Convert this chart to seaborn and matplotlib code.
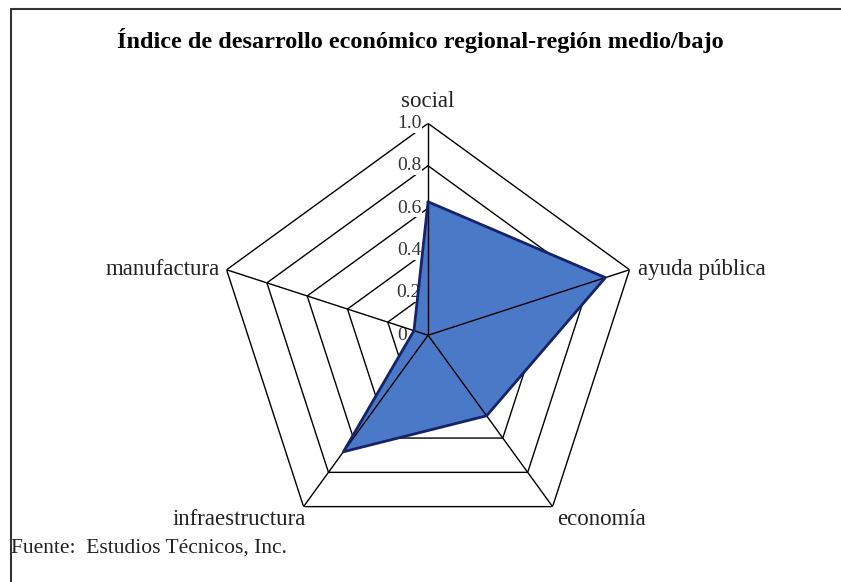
import numpy as np
import matplotlib.pyplot as plt
import seaborn as sns
from matplotlib.lines import Line2D

# Data
categories = ["social", "ayuda pública", "economía", "infraestructura", "manufactura"]
values = [0.63, 0.88, 0.47, 0.68, 0.07]
ring_levels = [0.2, 0.4, 0.6, 0.8, 1.0]
tick_labels = ["0.0", "0.2", "0.4", "0.6", "0.8", "1.0"]
tick_values = [0.0, 0.2, 0.4, 0.6, 0.8, 1.0]

title = "Índice de desarrollo económico regional-región medio/bajo"
source = "Fuente:  Estudios Técnicos, Inc."

sns.set_theme(style="white")
plt.rcParams["font.family"] = ["Liberation Serif", "DejaVu Serif"]

n = len(categories)
angles = np.linspace(0, 2 * np.pi, n, endpoint=False)
angles_closed = np.append(angles, angles[0])
values_closed = np.append(values, values[0])

fig = plt.figure(figsize=(8.41, 5.82), dpi=100)
fig.patch.set_facecolor("white")
ax = fig.add_axes([0.257, 0.060, 0.504, 0.728], projection="polar")
ax.set_theta_offset(np.pi / 2)
ax.set_theta_direction(-1)
ax.set_ylim(0, 1)
ax.grid(False)
ax.spines["polar"].set_visible(False)
ax.set_xticks([])
ax.set_yticks([])
ax.set_facecolor("white")

# pentagon rings
for r in ring_levels:
    ax.plot(angles_closed, [r] * (n + 1), color="black", lw=1.0, zorder=1)

# scale labels along the top axis
for v, lab in zip(tick_values, tick_labels):
    ax.annotate(lab, xy=(0, v), xytext=(-5, 0), textcoords="offset points",
                ha="right", va="center", fontsize=14, color="#333333",
                bbox=dict(facecolor="white", edgecolor="none", pad=0.5),
                zorder=1.5)

# filled area and outline
ax.fill(angles_closed, values_closed, color="#4a79c7", zorder=2)
for a in angles:
    ax.plot([a, a], [0, 1], color="black", lw=1.0, zorder=3)
sns.lineplot(x=angles_closed, y=values_closed, sort=False, estimator=None,
             color="#15236b", lw=2.0, ax=ax, zorder=4)

# category labels
offsets = [(0, 8, "center", "bottom"),
           (6, 0, "left", "center"),
           (3, -2, "left", "top"),
           (2, -2, "right", "top"),
           (-5, 0, "right", "center")]
for a, lab, (dx, dy, ha, va) in zip(angles, categories, offsets):
    ax.annotate(lab, xy=(a, 1), xytext=(dx, dy), textcoords="offset points",
                ha=ha, va=va, fontsize=16.5, color="#222222")

fig.text(0.5, 0.93, title, ha="center", va="center", fontsize=17.5,
         fontweight="bold", color="black")
fig.text(0.013, 0.058, source, ha="left", va="center", fontsize=15.5,
         color="#222222")

# frame lines (top and left)
fig.add_artist(Line2D([11 / 841, 1], [1 - 9 / 582] * 2, transform=fig.transFigure,
                      color="#333333", lw=1.5))
fig.add_artist(Line2D([11 / 841] * 2, [0, 1 - 9 / 582], transform=fig.transFigure,
                      color="#333333", lw=1.5))

fig.savefig("out.png", dpi=100, facecolor="white")
